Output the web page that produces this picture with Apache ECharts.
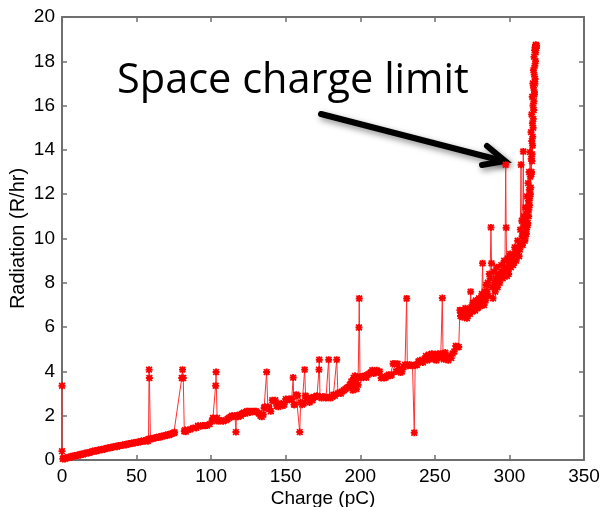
<!DOCTYPE html>
<html>
<head>
<meta charset="utf-8">
<script src="https://cdn.jsdelivr.net/npm/echarts@6/dist/echarts.min.js"></script>
<style>
html,body{margin:0;padding:0;background:#fff;}
#chart{width:604px;height:507px;}
</style>
</head>
<body>
<div id="chart"></div>
<script>
// Measured radiation dose rate against extracted charge
const charge = [
  0, 0, 0.5, 1, 2, 3, 4, 5, 6, 7, 8, 9, 10, 11, 12, 13, 14, 15, 16, 17, 18, 19, 20,
  21, 22, 23, 24, 25, 26, 27, 28, 29, 30, 31, 32, 33, 34, 35, 36, 37, 38, 39, 40,
  41, 42, 43, 44, 45, 46, 47, 48, 49, 50, 51, 52, 53, 54, 55, 56, 57, 57.5, 58,
  58.4, 58.6, 59.3, 60, 61, 62, 63, 64, 65, 66, 67, 68, 69, 70, 71, 72, 73, 74, 75, 75.5,
  80.3, 80.8, 81.3, 82, 82.5, 83, 84.5, 86, 88, 90, 91.2, 93, 94.5, 96, 97.2, 99, 100.5, 101.2,
  102, 103, 103.3, 104, 104.5, 105, 107, 108, 110, 111, 112, 113, 114, 115, 116, 116.6, 117,
  118, 119, 120, 121, 122, 123, 124, 125, 126, 127, 128, 129, 130, 131, 132, 133, 134, 135,
  135.5, 136, 137.2, 138, 138.5, 139, 140, 141, 142, 143, 144, 145, 146, 147, 148, 149, 150,
  151, 152, 153, 154, 155, 155.5, 156, 157, 158, 159.4, 160, 161, 162, 162.7, 163.3, 164, 165,
  166, 167, 168, 169, 170, 171, 172.3, 172.5, 173, 174, 175, 176, 177, 178, 178.8, 179.5, 180,
  181, 182, 183, 184.2, 185, 186, 187, 188, 189, 190, 191, 192, 193, 194, 195, 195.5, 196,
  196.5, 197, 197.5, 198, 198.5, 199.1, 199.3, 199.8, 200.5, 201, 202, 203, 204, 205, 206, 207,
  208, 209, 210, 211, 212, 213, 214, 215, 216, 217, 218, 219, 220, 221, 222, 223, 224, 225, 226,
  227, 228, 229, 230, 231.1, 231.5, 232, 233, 234, 235, 236.2, 236.8, 237.5, 238, 239, 240, 241,
  242, 243, 244, 245, 246, 247, 248, 249, 250, 251, 252, 253, 254, 255, 255.5, 256, 257, 258,
  259, 260, 261, 262, 263, 264, 265, 266,
  266.8, 267.2, 267.5, 268, 268.5, 269, 269.5, 270, 270.5, 271, 271.5, 272, 272.5, 273, 273.5,
  274, 274.5, 275, 275.5, 276, 276.5, 277, 277.5, 278, 278.5, 279, 279.5, 280, 280.5, 281, 281.5,
  282, 282.5, 283, 283.5, 284, 284.5, 285, 285.5, 286, 286.5, 287, 287.6, 288, 288.5, 289, 289.5,
  290, 290.5, 291, 291.5, 292, 292.5, 293, 293.5, 294, 294.5, 295, 295.5, 296, 296.5, 297,
  297.5, 297.8, 298.3, 298.8, 299, 299.5, 300, 300.5, 301, 301.5, 302, 302.5, 303, 303.5, 304,
  304.5, 305, 305.5, 306, 306.5, 307, 307.3, 307.8, 308, 308.3, 308.5, 308.8, 309.3, 309.6,
  309.8, 310, 310.3, 310.5, 310.8, 311, 311.3, 311.5, 311.8, 312, 312.2, 312.3, 312.5, 312.7,
  312.9, 313, 313.2, 313.3, 313.5, 313.6, 313.8, 314, 314.1, 314.3, 314.5, 314.6, 314.7, 314.8,
  314.9, 315, 315.1, 315.2, 315.3, 315.4, 315.5, 315.6, 315.7, 315.8, 315.9, 316, 316.1, 316.2,
  316.3, 316.4, 316.5, 316.6, 316.7, 316.8, 316.9, 317, 317.1, 317.2, 317.3, 317.4, 317.5, 317.6,
  317.7, 317.8, 318, 318.2
];
const radiation = [
  3.35, 0.4, 0.05, 0.08, 0.05, 0.1, 0.12, 0.1, 0.15, 0.18, 0.17, 0.2, 0.22, 0.2, 0.25, 0.27, 0.25, 0.3, 0.3, 0.33, 0.32, 0.35, 0.38,
  0.4, 0.42, 0.4, 0.44, 0.45, 0.47, 0.46, 0.5, 0.5, 0.53, 0.55, 0.54, 0.57, 0.58, 0.6, 0.62, 0.6, 0.65, 0.66, 0.65,
  0.68, 0.7, 0.68, 0.72, 0.74, 0.73, 0.76, 0.78, 0.77, 0.8, 0.8, 0.82, 0.85, 0.83, 0.88, 0.86, 0.9, 0.85, 0.95,
  4.08, 3.7, 0.95, 0.95, 0.97, 1.0, 1.0, 1.02, 1.05, 1.03, 1.07, 1.1, 1.08, 1.12, 1.15, 1.13, 1.18, 1.2, 1.22, 1.25,
  3.7, 4.08, 3.7, 1.3, 1.35, 1.28, 1.36, 1.38, 1.45, 1.45, 1.55, 1.52, 1.56, 1.55, 1.56, 1.62, 1.75, 1.9,
  1.85, 3.35, 3.97, 1.9, 1.8, 1.75, 1.78, 1.75, 1.8, 1.85, 1.9, 1.95, 2.0, 1.95, 2.0, 1.26, 2.0,
  1.95, 2.05, 2.0, 2.1, 2.15, 2.1, 2.2, 2.2, 2.15, 2.2, 2.18, 2.2, 2.2, 2.15, 2.1, 2.0, 1.95, 2.05,
  2.35, 2.4, 3.97, 2.4, 2.35, 2.3, 2.2, 2.7, 2.65, 2.7, 2.45, 2.4, 2.5, 2.55, 2.45, 2.5, 2.75,
  2.7, 2.75, 2.75, 2.75, 3.72, 2.5, 2.5, 2.95, 2.9, 1.26, 2.6, 2.5, 2.55, 4.08, 2.9, 2.8, 2.8,
  2.6, 2.8, 2.7, 2.85, 2.85, 2.9, 4.08, 4.53, 2.85, 2.8, 2.85, 2.85, 2.8, 2.82, 4.53, 2.85, 2.8,
  2.85, 2.95, 2.9, 4.53, 3.0, 3.05, 3.0, 3.1, 3.15, 3.2, 3.25, 3.3, 3.4, 3.55, 3.15, 3.7, 3.35,
  3.8, 3.5, 3.2, 3.75, 3.4, 5.98, 7.29, 3.75, 3.7, 3.75, 3.78, 3.8, 3.72, 3.85, 3.9, 3.95,
  4.05, 3.9, 4.0, 4.05, 3.95, 4.0, 3.7, 3.72, 3.7, 3.72, 3.8, 3.85, 3.8, 3.85, 4.35, 4.35, 4.0, 4.35, 4.1,
  3.95, 4.0, 4.2, 4.3, 7.29, 4.3, 4.25, 4.3, 4.28, 4.25, 1.23, 4.28, 4.3, 4.3, 4.45, 4.5, 4.45,
  4.4, 4.55, 4.7, 4.5, 4.75, 4.6, 4.8, 4.55, 4.75, 4.5, 4.8, 4.6, 4.8, 7.31, 4.75, 4.55, 4.85, 4.6,
  4.5, 4.7, 4.6, 4.8, 4.9, 5.15, 5.1, 5.1,
  6.76, 6.5, 6.75, 6.6, 6.45, 6.7, 6.5, 6.55, 6.85, 6.6, 6.4, 6.5, 6.8, 6.75, 6.6,
  7.6, 6.9, 6.7, 7.1, 6.8, 7.05, 6.75, 7.2, 7.0, 6.85, 6.9, 7.3, 7.2, 6.95, 7.1, 7.5,
  8.88, 7.3, 7.0, 7.6, 7.2, 7.9, 7.6, 8.0, 7.4, 8.4, 8.2, 10.5, 8.88, 7.8, 7.3, 8.5,
  8.0, 7.6, 8.2, 8.7, 7.8, 8.3, 8.4, 8.0, 8.3, 8.8, 8.5, 8.2, 8.5, 9.0, 8.7,
  13.33, 10.49, 8.3, 9.1, 8.6, 8.4, 8.9, 9.3, 8.7, 9.0, 9.2, 8.8, 8.9, 9.6, 9.4,
  9.0, 9.3, 9.9, 9.6, 9.2, 9.5, 10.4, 13.33, 9.8, 10.8, 10.1, 9.7, 13.93, 10.2,
  11.0, 10.6, 9.9, 10.0, 11.4, 10.8, 10.2, 10.4, 11.9, 11.2, 10.6, 10.7, 12.5, 11.7,
  11.0, 11.3, 13.0, 12.2, 11.5, 11.8, 13.9, 12.8, 12.0, 12.3, 14.8, 13.6, 12.9, 13.0,
  15.6, 14.4, 13.5, 13.8, 16.4, 15.2, 14.2, 14.6, 17.0, 16.0, 15.0, 15.4, 17.6, 16.8,
  15.8, 16.2, 18.2, 17.4, 16.5, 16.6, 18.5, 17.8, 17.0, 17.2, 18.65, 18.6, 18.0, 18.4,
  18.75, 18.7, 18.6, 18.7
];
const xTicks = { min: 0, max: 350, step: 50 };
const yTicks = { min: 0, max: 20, step: 2 };
const xName = 'Charge (pC)';
const yName = 'Radiation (R/hr)';
const noteText = 'Space charge limit';

const points = charge.map((c, i) => [c, radiation[i]]);

// asterisk-shaped marker: a plus and a cross sharing the same winding
const starMarker = 'path://M3.6,0L6.4,0L6.4,3.6L10,3.6L10,6.4L6.4,6.4L6.4,10L3.6,10L3.6,6.4L0,6.4L0,3.6L3.6,3.6Z' +
  'M1.8,0.1L5,3.3L8.2,0.1L9.9,1.8L6.7,5L9.9,8.2L8.2,9.9L5,6.7L1.8,9.9L0.1,8.2L3.3,5L0.1,1.8Z';

const axisGray = '#6f6f6f';
const labelFont = { color: '#000', fontFamily: 'Liberation Sans', fontSize: 19 };

function baseAxis(extra) {
  return Object.assign({
    type: 'value',
    axisLine: { show: true, onZero: false, lineStyle: { color: axisGray, width: 2 } },
    axisTick: { show: true, inside: true, length: 5, lineStyle: { color: axisGray, width: 1.5 } },
    splitLine: { show: false }
  }, extra);
}

const chart = echarts.init(document.getElementById('chart'), null, { renderer: 'canvas' });
chart.setOption({
  animation: false,
  backgroundColor: '#fff',
  grid: { left: 62, right: 20, top: 17, bottom: 47, containLabel: false, outerBoundsMode: 'none' },
  xAxis: [
    baseAxis({
      min: xTicks.min, max: xTicks.max, interval: xTicks.step, position: 'bottom',
      axisLabel: Object.assign({ margin: 7 }, labelFont),
      name: xName, nameLocation: 'middle', nameGap: 29, nameMoveOverlap: false,
      nameTextStyle: { color: '#000', fontFamily: 'Liberation Sans', fontSize: 19 }
    }),
    baseAxis({
      min: xTicks.min, max: xTicks.max, interval: xTicks.step, position: 'top',
      axisLabel: { show: false }
    })
  ],
  yAxis: [
    baseAxis({
      min: yTicks.min, max: yTicks.max, interval: yTicks.step, position: 'left',
      axisLabel: Object.assign({ margin: 7 }, labelFont),
      name: yName, nameLocation: 'middle', nameGap: 34, nameMoveOverlap: false,
      nameTextStyle: { color: '#000', fontFamily: 'Liberation Sans', fontSize: 20 }
    }),
    baseAxis({
      min: yTicks.min, max: yTicks.max, interval: yTicks.step, position: 'right',
      axisLabel: { show: false }
    })
  ],
  series: [{
    type: 'line',
    data: points,
    xAxisIndex: 0,
    yAxisIndex: 0,
    symbol: starMarker,
    symbolSize: 7,
    showAllSymbol: true,
    clip: false,
    lineStyle: { color: '#ff3030', width: 1 },
    itemStyle: { color: '#ff0000' }
  }],
  graphic: [
    {
      type: 'text',
      left: 117,
      top: 60,
      style: {
        text: noteText,
        font: '41.5px "Open Sans"',
        fill: '#000'
      }
    },
    {
      type: 'polyline',
      shape: { points: [[321, 114], [503, 161]] },
      style: {
        stroke: '#000', lineWidth: 6, lineCap: 'round',
        shadowBlur: 6, shadowColor: 'rgba(0,0,0,0.45)', shadowOffsetX: 2, shadowOffsetY: 3
      }
    },
    {
      type: 'polyline',
      shape: { points: [[487, 146], [505, 161], [482, 165]] },
      style: {
        stroke: '#000', lineWidth: 6, lineCap: 'round', lineJoin: 'miter', fill: null,
        shadowBlur: 6, shadowColor: 'rgba(0,0,0,0.45)', shadowOffsetX: 2, shadowOffsetY: 3
      }
    }
  ]
});
</script>
</body>
</html>
